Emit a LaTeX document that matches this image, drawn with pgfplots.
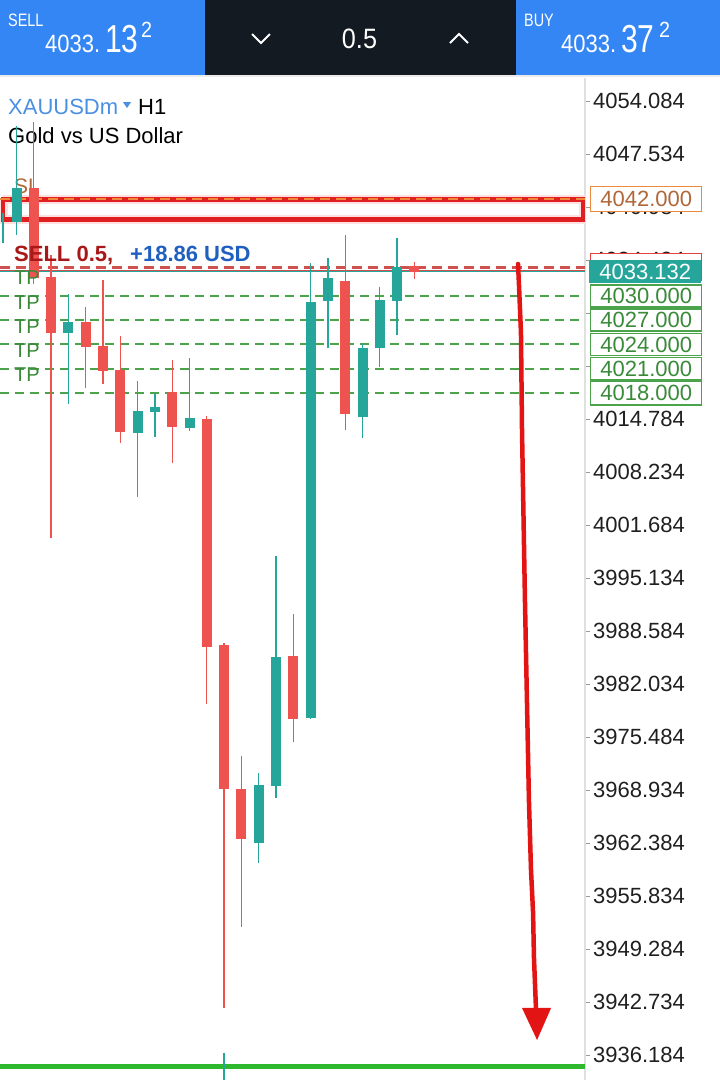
\documentclass[border=0pt]{standalone}
\usepackage{fontspec}
\setmainfont{Liberation Sans}
\usepackage{graphicx}
\usepackage{pgfplots}
\usepackage{pgfplotstable}
\pgfplotsset{compat=1.18}

\definecolor{candleRed}{HTML}{EF5350}
\definecolor{candleTeal}{HTML}{26A69A}
\definecolor{barBlue}{HTML}{3586F5}
\definecolor{barDark}{HTML}{131A22}
\definecolor{slOrange}{HTML}{EE8A3C}
\definecolor{slText}{HTML}{B0683A}
\definecolor{tpGreen}{HTML}{4BA34B}
\definecolor{tpText}{HTML}{3A8A3A}
\definecolor{sellRed}{HTML}{A81818}
\definecolor{pnlBlue}{HTML}{1F5FC0}
\definecolor{boxRed}{HTML}{E02020}
\definecolor{posRed}{HTML}{D05050}
\definecolor{arrowRed}{HTML}{E31414}
\definecolor{lineGreen}{HTML}{2DB82D}
\definecolor{symBlue}{HTML}{4A90E2}

% candles: k = bar index, hi/lo = wick, top/bot = body
\pgfplotstableread{
k hi lo top bot
2 4051.49 4031.50 4043.33 4032.21
3 4035.05 4000.08 4032.33 4025.41
5 4028.63 4018.62 4026.77 4023.68
6 4031.96 4019.11 4023.81 4020.72
7 4025.04 4011.82 4020.84 4013.18
10 4022.08 4009.35 4018.12 4013.80
12 4015.16 3979.57 4014.79 3986.61
13 3987.10 3942.00 3986.86 3969.06
14 3973.14 3952.01 3969.06 3962.88
17 3990.69 3974.87 3985.50 3977.71
20 4037.52 4013.43 4031.84 4015.40
24 4034.19 4032.09 4033.69 4032.95
}\redcandles

\pgfplotstableread{
k hi lo top bot
0.22 4040.24 4036.53 4038.00 4038.00
1 4051.00 4037.50 4043.33 4039.13
4 4030.23 4016.64 4026.77 4025.41
8 4019.48 4005.15 4015.77 4013.06
9 4017.88 4012.56 4016.27 4015.65
11 4022.32 4013.30 4014.91 4013.67
15 3971.04 3959.92 3969.56 3962.39
16 3997.86 3967.95 3985.37 3969.43
18 4034.06 3977.71 4029.24 3977.84
19 4034.68 4023.56 4032.21 4029.37
21 4024.05 4012.44 4023.56 4015.03
22 4031.10 4021.21 4029.49 4023.56
23 4037.15 4025.17 4033.57 4029.37
}\tealcandles

\newcommand{\tickfont}{\fontsize{22}{24}\selectfont}

\begin{document}
\begin{tikzpicture}
\useasboundingbox (0pt,0pt) rectangle (720pt,-1080pt);

% header texts
\node[anchor=base west, inner sep=0, text=symBlue, font=\fontsize{22}{24}\selectfont] at (8pt,-114pt) {XAUUSDm};
\fill[symBlue] (123pt,-102pt) -- (131pt,-102pt) -- (127pt,-108pt) -- cycle;
\node[anchor=base west, inner sep=0, font=\fontsize{22}{24}\selectfont] at (138pt,-114pt) {H1};
\node[anchor=base west, inner sep=0, font=\fontsize{22}{24}\selectfont] at (8pt,-143pt) {Gold vs US Dollar};

\begin{axis}[
  name=ax,
  at={(0pt,-1080pt)}, anchor=south west,
  scale only axis, width=585pt, height=1002pt,
  xmin=0.046, xmax=33.861,
  ymin=3933.099, ymax=4056.926,
  axis x line=none,
  axis y line*=right,
  axis line style={draw=black!12, line width=2pt},
  xtick=\empty,
  ytick={3936.184,3942.734,3949.284,3955.834,3962.384,3968.934,3975.484,3982.034,3988.584,3995.134,4001.684,4008.234,4014.784,4021.334,4027.884,4034.434,4040.984,4047.534,4054.084},
  yticklabels={3936.184,3942.734,3949.284,3955.834,3962.384,3968.934,3975.484,3982.034,3988.584,3995.134,4001.684,4008.234,4014.784,4021.334,4027.884,4034.434,4040.984,4047.534,4054.084},
  tick align=outside,
  major tick length=5pt,
  ytick style={draw=black!40, line width=1pt},
  yticklabel style={font=\tickfont, text=black!88, anchor=west, inner sep=0pt, xshift=3pt},
  clip=true,
]

% SL label (under the candles)
\node[anchor=base west, inner sep=0, text=slText, font=\fontsize{21}{22}\selectfont] at (axis cs:0.855,4042.71) {SL};

% SL zone rectangle (glow + border)
\addplot[forget plot, red!12, line width=9pt] coordinates {(0.22,4041.9) (33.75,4041.9) (33.75,4039.44) (0.22,4039.44) (0.22,4041.9)};
\addplot[forget plot, boxRed, line width=4.3pt] coordinates {(0.22,4041.9) (33.75,4041.9) (33.75,4039.44) (0.22,4039.44) (0.22,4041.9)} -- cycle;
% SL line
\addplot[forget plot, slOrange, line width=2pt, dash pattern=on 10pt off 6pt] coordinates {(0.046,4042) (33.861,4042)};

% TP lines
\addplot[forget plot, tpGreen, line width=2pt, dash pattern=on 9pt off 6pt] coordinates {(0.046,4030) (33.861,4030)};
\addplot[forget plot, tpGreen, line width=2pt, dash pattern=on 9pt off 6pt] coordinates {(0.046,4027) (33.861,4027)};
\addplot[forget plot, tpGreen, line width=2pt, dash pattern=on 9pt off 6pt] coordinates {(0.046,4024) (33.861,4024)};
\addplot[forget plot, tpGreen, line width=2pt, dash pattern=on 9pt off 6pt] coordinates {(0.046,4021) (33.861,4021)};
\addplot[forget plot, tpGreen, line width=2pt, dash pattern=on 9pt off 6pt] coordinates {(0.046,4018) (33.861,4018)};

% position and bid lines
\addplot[forget plot, posRed, line width=3.2pt, dash pattern=on 10pt off 6pt] coordinates {(0.046,4033.55) (33.861,4033.55)};
\addplot[forget plot, posRed, line width=0.9pt] coordinates {(0.046,4033.20) (33.861,4033.20)};
\addplot[forget plot, candleTeal, line width=0.9pt] coordinates {(0.046,4032.98) (33.861,4032.98)};

% wicks
\addplot[forget plot, draw=none, mark=none, error bars/.cd, y dir=minus, y explicit, error mark=none,
  error bar style={line width=1.3pt, draw=candleRed}]
  table[x=k, y=hi, y error minus expr={\thisrow{hi}-\thisrow{lo}}] {\redcandles};
\addplot[forget plot, draw=none, mark=none, error bars/.cd, y dir=minus, y explicit, error mark=none,
  error bar style={line width=1.3pt, draw=candleTeal}]
  table[x=k, y=hi, y error minus expr={\thisrow{hi}-\thisrow{lo}}] {\tealcandles};
% bodies
\addplot[forget plot, draw=none, mark=none, error bars/.cd, y dir=minus, y explicit, error mark=none,
  error bar style={line width=10pt, draw=candleRed}]
  table[x=k, y=top, y error minus expr={\thisrow{top}-\thisrow{bot}}] {\redcandles};
\addplot[forget plot, draw=none, mark=none, error bars/.cd, y dir=minus, y explicit, error mark=none,
  error bar style={line width=10pt, draw=candleTeal}]
  table[x=k, y=top, y error minus expr={\thisrow{top}-\thisrow{bot}}] {\tealcandles};

% order labels
\node[anchor=base west, inner sep=0, text=sellRed, font=\bfseries\fontsize{22}{24}\selectfont] at (axis cs:0.855,4034.31) {SELL 0.5,};
\node[anchor=base west, inner sep=0, text=pnlBlue, font=\bfseries\fontsize{22}{24}\selectfont] at (axis cs:7.56,4034.31) {+18.86 USD};
\node[anchor=base west, inner sep=0, text=tpText, font=\fontsize{20}{22}\selectfont] at (axis cs:0.855,4031.36) {TP};
\node[anchor=base west, inner sep=0, text=tpText, font=\fontsize{20}{22}\selectfont] at (axis cs:0.855,4028.36) {TP};
\node[anchor=base west, inner sep=0, text=tpText, font=\fontsize{20}{22}\selectfont] at (axis cs:0.855,4025.36) {TP};
\node[anchor=base west, inner sep=0, text=tpText, font=\fontsize{20}{22}\selectfont] at (axis cs:0.855,4022.36) {TP};
\node[anchor=base west, inner sep=0, text=tpText, font=\fontsize{20}{22}\selectfont] at (axis cs:0.855,4019.36) {TP};

% hand-drawn red arrow
\addplot[forget plot, arrowRed, line width=4.5pt, line join=round, line cap=round] coordinates {
 (29.99,4033.94) (30.05,4031.10) (30.16,4025.41) (30.22,4013.43) (30.39,3992.42)
 (30.62,3967.70) (30.74,3959.05) (30.86,3953.74) (30.91,3948.30) (31.03,3941.75)};
\addplot[forget plot, fill=arrowRed, draw=none] coordinates {(30.22,3942.0) (31.90,3942.0) (31.09,3938.04)} -- cycle;

% bottom green line and time marker
\addplot[forget plot, lineGreen, line width=5pt] coordinates {(0.046,3934.83) (33.861,3934.83)};
\addplot[forget plot, candleTeal, line width=1.5pt] coordinates {(12.99,3936.44) (12.99,3933.0)};

% anchors for the price boxes
\coordinate (b4042) at (axis cs:33.861,4042);
\coordinate (bpos) at (axis cs:33.861,4033.55);
\coordinate (bbid) at (axis cs:33.861,4033.0);
\coordinate (b4030) at (axis cs:33.861,4030);
\coordinate (b4027) at (axis cs:33.861,4027);
\coordinate (b4024) at (axis cs:33.861,4024);
\coordinate (b4021) at (axis cs:33.861,4021);
\coordinate (b4018) at (axis cs:33.861,4018);
\end{axis}

% price boxes on the scale
\tikzset{pbox/.style={anchor=west, inner sep=0pt, minimum width=111pt, font=\tickfont, line width=1.4pt}}
\node[pbox, draw=slOrange, fill=white, text=slText, minimum height=25pt] at ([xshift=5pt]b4042) {4042.000};
\node[pbox, draw=boxRed!85, fill=white, text=white, minimum height=27pt] at ([xshift=5pt]bpos) {};
\node[pbox, draw=candleTeal, fill=candleTeal, text=white, minimum height=22pt] at ([xshift=4pt]bbid) {4033.132};
\node[pbox, draw=tpGreen, fill=white, text=tpText, minimum height=22pt] at ([xshift=5pt]b4030) {4030.000};
\node[pbox, draw=tpGreen, fill=white, text=tpText, minimum height=22pt] at ([xshift=5pt]b4027) {4027.000};
\node[pbox, draw=tpGreen, fill=white, text=tpText, minimum height=22pt] at ([xshift=5pt]b4024) {4024.000};
\node[pbox, draw=tpGreen, fill=white, text=tpText, minimum height=22pt] at ([xshift=5pt]b4021) {4021.000};
\node[pbox, draw=tpGreen, fill=white, text=tpText, minimum height=24pt] at ([xshift=5pt]b4018) {4018.000};

% top trade bar
\fill[barBlue] (0pt,0pt) rectangle (205pt,-75pt);
\fill[barDark] (205pt,0pt) rectangle (516pt,-75pt);
\fill[barBlue] (516pt,0pt) rectangle (720pt,-75pt);
\fill[black!8] (0pt,-75pt) rectangle (720pt,-77pt);

\node[anchor=base west, inner sep=0, text=white] at (8pt,-26pt) {\scalebox{0.8}[1]{\fontsize{18}{18}\selectfont SELL}};
\node[anchor=base west, inner sep=0, text=white] at (45pt,-52pt) {\scalebox{0.88}[1]{\fontsize{25}{25}\selectfont 4033.}};
\node[anchor=base west, inner sep=0, text=white] at (105pt,-52pt) {\scalebox{0.77}[1]{\fontsize{39}{39}\selectfont 13}};
\node[anchor=base west, inner sep=0, text=white] at (141pt,-37pt) {\scalebox{0.9}[1]{\fontsize{22}{22}\selectfont 2}};

\node[anchor=base west, inner sep=0, text=white] at (524pt,-26pt) {\scalebox{0.8}[1]{\fontsize{18}{18}\selectfont BUY}};
\node[anchor=base west, inner sep=0, text=white] at (561pt,-52pt) {\scalebox{0.88}[1]{\fontsize{25}{25}\selectfont 4033.}};
\node[anchor=base west, inner sep=0, text=white] at (621pt,-52pt) {\scalebox{0.77}[1]{\fontsize{39}{39}\selectfont 37}};
\node[anchor=base west, inner sep=0, text=white] at (659pt,-37pt) {\scalebox{0.9}[1]{\fontsize{22}{22}\selectfont 2}};

\node[anchor=base, inner sep=0, text=white] at (359.5pt,-48pt) {\scalebox{0.9}[1]{\fontsize{28}{28}\selectfont 0.5}};
\draw[white, line width=2pt, line join=miter] (252pt,-34pt) -- (261pt,-43pt) -- (270pt,-34pt);
\draw[white, line width=2pt, line join=miter] (450pt,-43pt) -- (459pt,-34pt) -- (468pt,-43pt);
\end{tikzpicture}
\end{document}
